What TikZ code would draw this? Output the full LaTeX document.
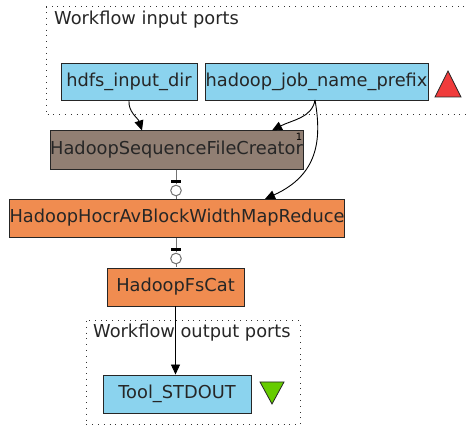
\documentclass[tikz,border=0pt]{standalone}
\usepackage{fontspec}
\setmainfont{DejaVu Sans}
\usetikzlibrary{arrows.meta}
\definecolor{portblue}{HTML}{8BD3EE}
\definecolor{procbrown}{HTML}{917F73}
\definecolor{procorange}{HTML}{F08C50}
\definecolor{inred}{HTML}{F03C3C}
\definecolor{outgreen}{HTML}{66CC00}
\begin{document}
\begin{tikzpicture}[x=1pt,y=-1pt,
  txt/.style={font=\fontsize{17.8}{20}\selectfont, text=black!85},
  box/.style={draw=black!85, line width=0.9pt, inner sep=0pt, txt},
  port/.style={box, fill=portblue},
  cluster/.style={draw=black!80, line width=1pt, dash pattern=on 0.8pt off 5pt},
  link/.style={draw=black, line width=0.9pt, -{Triangle[length=10pt,width=9pt]}},
  ctrl/.style={draw=black!55, line width=1pt}]
\useasboundingbox (0,0) rectangle (466,427);
% clusters
\draw[cluster] (470,7) -- (46,7) -- (46,115) -- (470,115);
\node[txt, anchor=west, inner sep=0pt] (inlbl) at (54,20) {Workflow input ports};
\draw[cluster] (86,321) rectangle (300,425);
\node[txt, anchor=west, inner sep=0pt] (outlbl) at (93,333) {Workflow output ports};
% input ports
\node[port, minimum width=136pt, minimum height=37pt] (hdfs) at (129,81.5) {hdfs\_input\_dir};
\node[port, minimum width=223pt, minimum height=37pt] (prefix) at (316.5,81.5) {hadoop\_job\_name\_prefix};
\draw[fill=inred, draw=black!85, line width=0.8pt] (435,97) -- (461,97) -- (448,71) -- cycle;
% processors
\node[box, fill=procbrown, minimum width=253pt, minimum height=39pt] (seq) at (176.5,150) {HadoopSequenceFileCreator};
\node[font=\fontsize{10}{11}\selectfont, anchor=north east, inner sep=0pt] (seqn) at ([xshift=-1pt,yshift=-3pt]seq.north east) {1};
\node[box, fill=procorange, minimum width=332pt, minimum height=38pt] (mr) at (177,218) {HadoopHocrAvBlockWidthMapReduce};
\node[box, fill=procorange, minimum width=137pt, minimum height=38pt] (cat) at (175.5,287) {HadoopFsCat};
% output port
\node[port, minimum width=148pt, minimum height=38pt] (out) at (177,394) {Tool\_STDOUT};
\draw[fill=outgreen, draw=black!85, line width=0.8pt] (260,382) -- (284,382) -- (272,404) -- cycle;
% data links
\draw[link] (hdfs.south) .. controls (128,112) and (138,118) .. (142,130.5);
\draw[link] (315,100) .. controls (312,118) and (292,120) .. (272,130.5);
\draw[link] (315,100) .. controls (322,140) and (318,175) .. (265,199);
\draw[link] (cat.south) -- (out.north -| cat.south);
% control links
\foreach \a/\b/\y in {seq/mr/185, mr/cat/253}{
  \draw[ctrl] (176,\y-15) -- (176,\y-0.5);
  \draw[ctrl] (176,\y+11) -- (176,\y+14);
  \fill[black] (171,\y-4.5) rectangle (181,\y-1.5);
  \draw[ctrl, fill=white] (176,\y+5.5) circle (5.3pt);
}
\end{tikzpicture}
\end{document}
